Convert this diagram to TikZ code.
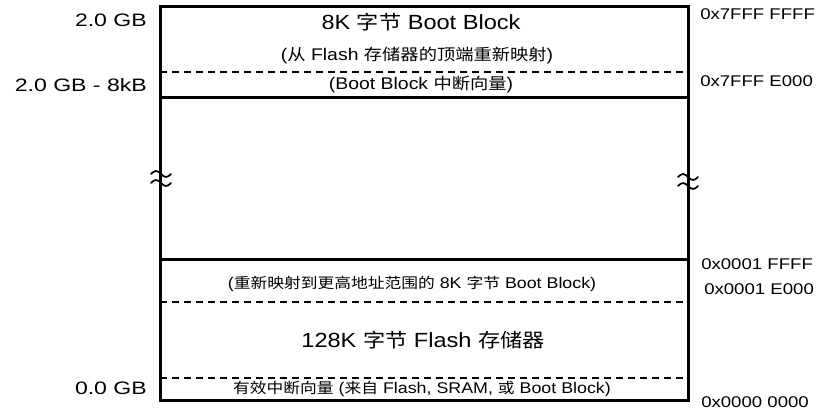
\documentclass[tikz,border=0pt]{standalone}
\usepackage{fontspec}
\setmainfont{Liberation Sans}
\newfontfamily\cjk[Scale=0.94]{Noto Sans CJK SC}
\newcommand\zh[1]{{\cjk #1}}
\usetikzlibrary{positioning}

\begin{document}
\begin{tikzpicture}[x=1pt,y=-1pt,
  wall/.style={line width=3pt},
  split/.style={line width=2.2pt,dash pattern=on 7pt off 5pt},
  brk/.style={line width=1.7pt,line cap=round},
  big/.style={font=\fontsize{20.5}{20.5}\selectfont,xscale=1.15,transform shape,inner sep=0pt},
  small/.style={font=\fontsize{15.5}{15.5}\selectfont,xscale=1.15,transform shape,inner sep=0pt},
  gb/.style={font=\fontsize{18}{18}\selectfont,xscale=1.28,transform shape,inner sep=0pt,anchor=east},
  addr/.style={font=\fontsize{15.5}{15.5}\selectfont,xscale=1.2,transform shape,inner sep=0pt,anchor=west}]
\useasboundingbox (0,0) rectangle (816,412);
\draw[wall] (160,7) rectangle (688,400);
\draw[wall] (160,97) -- (688,97);
\draw[wall] (160,259) -- (688,259);
\draw[split] (160,72) -- (688,72);
\draw[split] (160,302) -- (688,302);
\draw[split] (160,378) -- (688,378);
\draw[brk] (151,174) sin (156,171) cos (161,174) sin (166,177) cos (171,174);
\draw[brk] (151,183) sin (156,180) cos (161,183) sin (166,186) cos (171,183);
\draw[brk] (678,177) sin (683,174) cos (688,177) sin (693,180) cos (698,177);
\draw[brk] (678,186) sin (683,183) cos (688,186) sin (693,189) cos (698,186);
\node[big] (bootblk) at (421,22) {8K \zh{字节} Boot Block};
\node[small,scale=1.09] (remaptop) at (417,56) {(\zh{从} Flash \zh{存储器的顶端重新映射})};
\node[small,scale=1.09] (bootvec) at (421,85) {(Boot Block \zh{中断向量})};
\node[small] (remaphigh) at (412,284) {(\zh{重新映射到更高地址范围的} 8K \zh{字节} Boot Block)};
\node[big] (flash) at (423,340) {128K \zh{字节} Flash \zh{存储器}};
\node[small] (vectors) at (422,389) {\zh{有效中断向量} (\zh{来自} Flash, SRAM, \zh{或} Boot Block)};
\node[gb] (gbtop) at (147,20) {2.0 GB};
\node[gb] (gbboot) at (147,85) {2.0 GB - 8kB};
\node[gb] (gbzero) at (147,388) {0.0 GB};
\node[addr] (top7fff) at (700,14) {0x7FFF FFFF};
\node[addr] (boot7fff) at (700,81) {0x7FFF E000};
\node[addr] (top0001) at (701,264) {0x0001 FFFF};
\node[addr] (boot0001) at (704,289) {0x0001 E000};
\node[addr] (zero0000) at (701,402) {0x0000 0000};
\end{tikzpicture}
\end{document}
